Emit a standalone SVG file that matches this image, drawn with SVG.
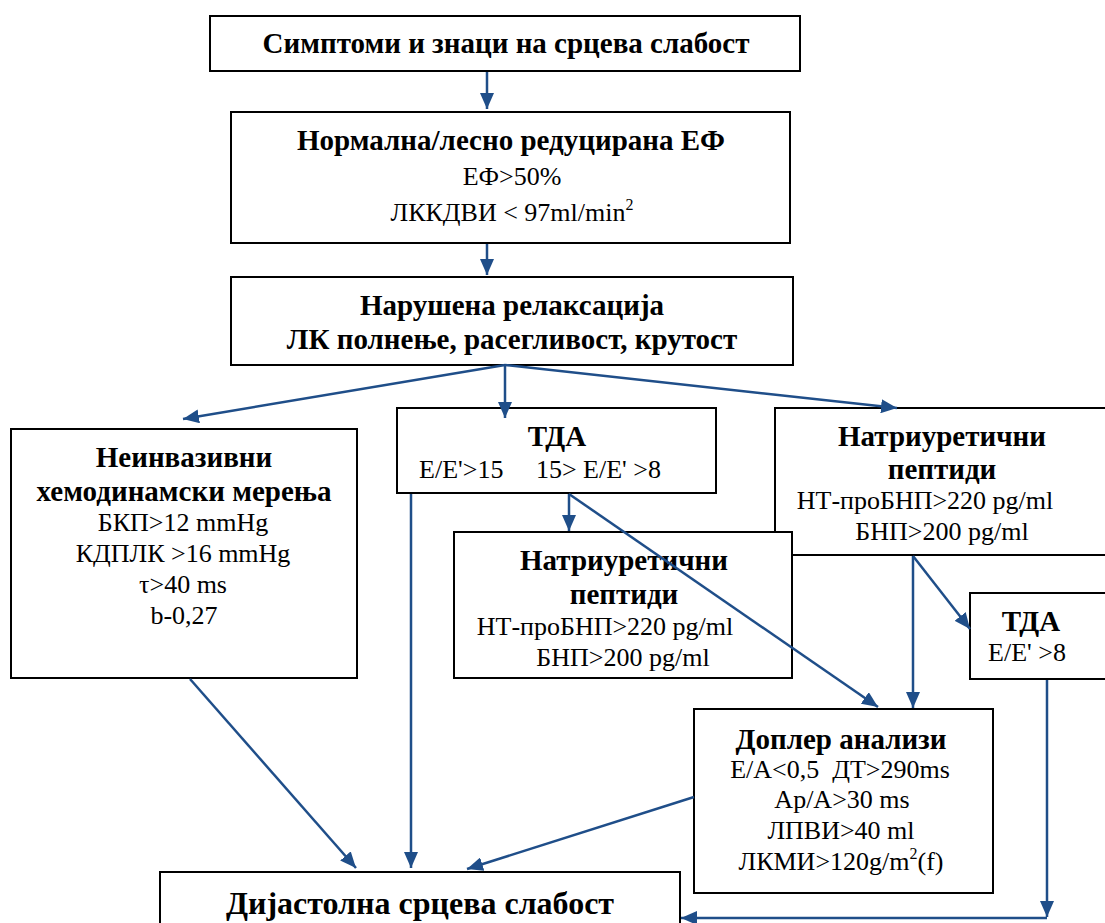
<svg xmlns="http://www.w3.org/2000/svg" width="1105" height="923" viewBox="0 0 1105 923">
  <style>
    .box { fill: #ffffff; stroke: #000000; stroke-width: 2; }
    .t { font-family: "Liberation Serif", "Times New Roman", serif; fill: #000000; text-anchor: middle; }
    .b { font-weight: bold; font-size: 29px; }
    .r { font-size: 26px; }
    .sup { font-size: 16px; }
    .edge { fill: none; stroke: #1f4e89; stroke-width: 2.5; }
  </style>
  <defs>
    <marker id="arrow" viewBox="0 0 16 14" refX="16" refY="7" markerWidth="16" markerHeight="14" markerUnits="userSpaceOnUse" orient="auto">
      <path d="M0,0 L16,7 L0,14 Z" fill="#1f4e89"/>
    </marker>
  </defs>
  <rect width="1105" height="923" fill="#ffffff"/>

  <g id="symptoms">
    <rect class="box" x="210" y="16" width="590" height="55"/>
    <text class="t b" x="506" y="53">Симптоми и знаци на срцева слабост</text>
  </g>

  <g id="ef">
    <rect class="box" x="231" y="112" width="559" height="131"/>
    <text class="t b" x="511" y="150">Нормална/лесно редуцирана ЕФ</text>
    <text class="t r" x="512" y="185">ЕФ&gt;50%</text>
    <text class="t r" x="512" y="221">ЛККДВИ &lt; 97ml/min<tspan class="sup" dy="-11">2</tspan></text>
  </g>

  <g id="relaxation">
    <rect class="box" x="231" y="277" width="562" height="88"/>
    <text class="t b" x="512" y="315">Нарушена релаксација</text>
    <text class="t b" x="512" y="349">ЛК полнење, расегливост, крутост</text>
  </g>

  <g id="noninvasive">
    <rect class="box" x="11" y="429" width="346" height="249"/>
    <text class="t b" x="184" y="467">Неинвазивни</text>
    <text class="t b" x="184" y="501">хемодинамски мерења</text>
    <text class="t r" x="183" y="531">БКП&gt;12 mmHg</text>
    <text class="t r" x="183" y="562">КДПЛК &gt;16 mmHg</text>
    <text class="t r" x="183" y="593">τ&gt;40 ms</text>
    <text class="t r" x="184" y="624">b-0,27</text>
  </g>

  <g id="tda-main">
    <rect class="box" x="397" y="408" width="319" height="85"/>
    <text class="t b" x="557" y="446">ТДА</text>
    <text class="t r" x="540" y="478" xml:space="preserve">E/E'&gt;15     15&gt; E/E' &gt;8</text>
  </g>

  <g id="peptides-top">
    <rect class="box" x="775" y="408" width="340" height="147"/>
    <text class="t b" x="942" y="446">Натриуретични</text>
    <text class="t b" x="942" y="479">пептиди</text>
    <text class="t r" x="925" y="509">НТ-проБНП&gt;220 pg/ml</text>
    <text class="t r" x="942" y="540">БНП&gt;200 pg/ml</text>
  </g>

  <g id="peptides-mid">
    <rect class="box" x="454" y="532" width="338" height="146"/>
    <text class="t b" x="624" y="570">Натриуретични</text>
    <text class="t b" x="624" y="604">пептиди</text>
    <text class="t r" x="605" y="635">НТ-проБНП&gt;220 pg/ml</text>
    <text class="t r" x="623" y="666">БНП&gt;200 pg/ml</text>
  </g>

  <g id="tda-side">
    <rect class="box" x="970" y="593" width="145" height="86"/>
    <text class="t b" x="1031" y="631">ТДА</text>
    <text class="t r" x="1027" y="661">E/E' &gt;8</text>
  </g>

  <g id="doppler">
    <rect class="box" x="694" y="709" width="299" height="184"/>
    <text class="t b" x="841" y="749">Доплер анализи</text>
    <text class="t r" x="840" y="778" xml:space="preserve">E/A&lt;0,5  ДТ&gt;290ms</text>
    <text class="t r" x="842" y="808">Ap/A&gt;30 ms</text>
    <text class="t r" x="841" y="839">ЛПВИ&gt;40 ml</text>
    <text class="t r" x="841" y="870">ЛКМИ&gt;120g/m<tspan class="sup" dy="-11">2</tspan><tspan dy="11">(f)</tspan></text>
  </g>

  <g id="diastolic">
    <rect class="box" x="160" y="872" width="520" height="60"/>
    <text class="t b" x="420" y="914" style="font-size:32px">Дијастолна срцева слабост</text>
  </g>

  <g id="connectors">
    <line class="edge" x1="487" y1="72" x2="487" y2="109" marker-end="url(#arrow)"/>
    <line class="edge" x1="487" y1="244" x2="487" y2="275" marker-end="url(#arrow)"/>
    <line class="edge" x1="505" y1="365" x2="183" y2="419" marker-end="url(#arrow)"/>
    <line class="edge" x1="505" y1="365" x2="505" y2="418" marker-end="url(#arrow)"/>
    <line class="edge" x1="505" y1="365" x2="897" y2="408" marker-end="url(#arrow)"/>
    <line class="edge" x1="569" y1="494" x2="569" y2="531" marker-end="url(#arrow)"/>
    <line class="edge" x1="569" y1="494" x2="878" y2="707" marker-end="url(#arrow)"/>
    <line class="edge" x1="411" y1="494" x2="411" y2="868" marker-end="url(#arrow)"/>
    <line class="edge" x1="913" y1="556" x2="913" y2="708" marker-end="url(#arrow)"/>
    <line class="edge" x1="913" y1="556" x2="970" y2="629" marker-end="url(#arrow)"/>
    <line class="edge" x1="1047" y1="680" x2="1047" y2="917" marker-end="url(#arrow)"/>
    <line class="edge" x1="1047" y1="918" x2="681" y2="918" marker-end="url(#arrow)"/>
    <line class="edge" x1="694" y1="797" x2="467" y2="869" marker-end="url(#arrow)"/>
    <line class="edge" x1="190" y1="679" x2="356" y2="868" marker-end="url(#arrow)"/>
  </g>
</svg>
